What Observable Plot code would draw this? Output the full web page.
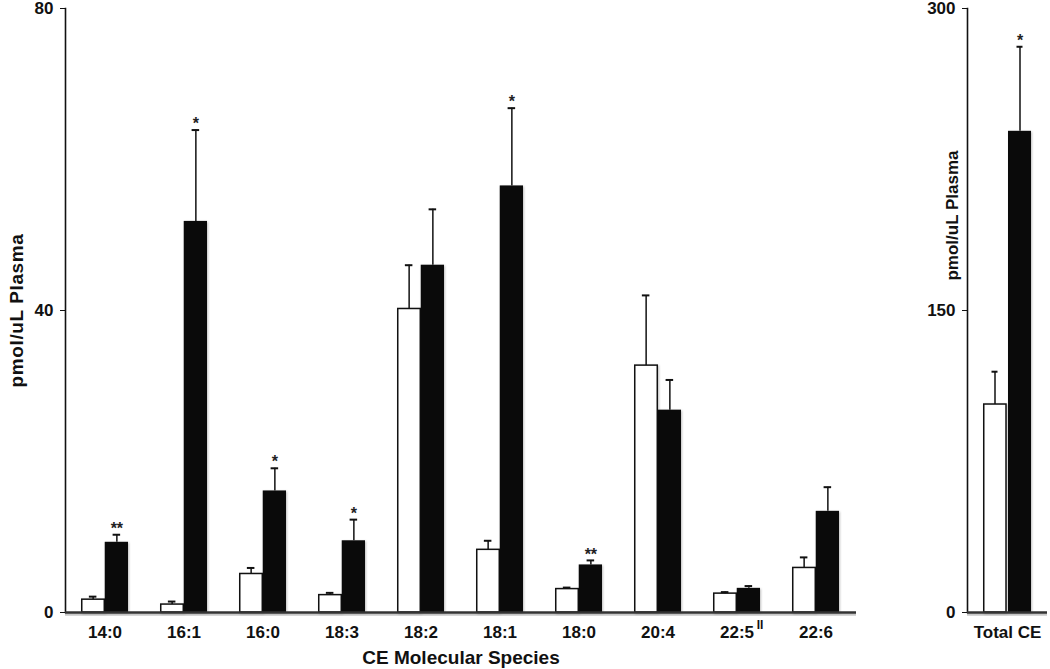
<!DOCTYPE html>
<html>
<head>
<meta charset="utf-8">
<script src="https://cdn.jsdelivr.net/npm/d3@7"></script>
<script src="https://cdn.jsdelivr.net/npm/@observablehq/plot@0.6"></script>
<style>
  body { margin: 0; background: #fff; }
  #wrap { position: relative; width: 1050px; height: 669px; overflow: hidden; }
  #wrap > svg { position: absolute; top: 0; }
</style>
</head>
<body>
<div id="wrap"></div>
<script>
// ---- data ----
const categories = ["14:0","16:1","16:0","18:3","18:2","18:1","18:0","20:4","22:5","22:6"];
const controlMean = [1.7, 1.05, 5.1, 2.3, 40.2, 8.3, 3.1, 32.7, 2.5, 5.9];
const controlSem  = [0.4, 0.4, 0.8, 0.3, 5.8, 1.2, 0.2, 9.3, 0.2, 1.4];
const treatedMean = [9.3, 51.8, 16.1, 9.5, 46.0, 56.5, 6.3, 26.8, 3.2, 13.4];
const treatedSem  = [1.0, 12.1, 3.0, 2.8, 7.4, 10.3, 0.6, 4.0, 0.3, 3.2];
const significance = ["**","*","*","*","","*","**","","",""];
const leftTicks = [0, 40, 80];

const totalCategory = ["Total CE"];
const totalControlMean = [103.3];
const totalControlSem = [16.3];
const totalTreatedMean = [239];
const totalTreatedSem = [42];
const totalSignificance = ["*"];
const rightTicks = [0, 150, 300];

const yTitle = "pmol/uL Plasma";
const xTitle = "CE Molecular Species";

// ---- build rows ----
const rows = categories.map((c, i) => ({
  cat: c, ctrl: controlMean[i], ctrlTop: controlMean[i] + controlSem[i],
  trt: treatedMean[i], trtTop: treatedMean[i] + treatedSem[i], sig: significance[i]
}));
const totalRows = totalCategory.map((c, i) => ({
  cat: c, ctrl: totalControlMean[i], ctrlTop: totalControlMean[i] + totalControlSem[i],
  trt: totalTreatedMean[i], trtTop: totalTreatedMean[i] + totalTreatedSem[i], sig: totalSignificance[i]
}));

const FONT = "'Liberation Sans', Arial, Helvetica, sans-serif";
const CAP = 8;

function groupedPanel({data, width, marginLeft, marginRight, yDomain, yTicks, pIn, pOut, extraMarks = [], xTitleText = null, yLabelDx, yLabelDy = 0, yLabelSize = 19}) {
  const height = 669, marginTop = 8, marginBottom = 57;
  const n = data.length;
  const step = (width - marginLeft - marginRight) / (n - pIn + 2 * pOut);
  const bw = step * (1 - pIn);
  const half = bw / 2;
  const q = bw / 4;
  const marks = [
    Plot.frame({anchor: "left", stroke: "#111", strokeWidth: 1.6}),
    Plot.ruleY([0], {stroke: "#c8c8c8", strokeWidth: 2.5, dy: 2}),
    Plot.barY(data, {x: "cat", y: "ctrl", fill: "white", stroke: "#111", strokeWidth: 1.5, insetRight: half, insetLeft: 0.75}),
    Plot.barY(data, {x: "cat", y: "trt", fill: "#0a0a0a", insetLeft: half}),
    Plot.ruleX(data, {x: "cat", y1: "ctrl", y2: "ctrlTop", dx: -q, stroke: "#111", strokeWidth: 1.5}),
    Plot.ruleX(data, {x: "cat", y1: "trt", y2: "trtTop", dx: q, stroke: "#111", strokeWidth: 1.5}),
    Plot.tickY(data, {x: "cat", y: "ctrlTop", insetLeft: q - CAP/2, insetRight: 3*q - CAP/2, stroke: "#111", strokeWidth: 2}),
    Plot.tickY(data, {x: "cat", y: "trtTop", insetLeft: 3*q - CAP/2, insetRight: q - CAP/2, stroke: "#111", strokeWidth: 2}),
    Plot.text(data.filter(d => d.sig), {x: "cat", y: "trtTop", text: "sig", dx: q, dy: -6, fontSize: 16, fontWeight: "bold", fill: "#222"}),
    Plot.ruleY([0], {stroke: "#333", strokeWidth: 2.5}),
    Plot.text([yTitle], {frameAnchor: "left", text: d => d, rotate: -90, textAnchor: "middle", lineAnchor: "middle", dx: yLabelDx, dy: yLabelDy, fontSize: yLabelSize, fontWeight: "bold", fill: "#111"}),
    ...extraMarks
  ];
  if (xTitleText) marks.push(Plot.text([xTitleText], {frameAnchor: "bottom", text: d => d, textAnchor: "middle", lineAnchor: "middle", dy: 45, fontSize: 19, fontWeight: "bold", fill: "#111"}));
  const svg = Plot.plot({
    width, height, marginLeft, marginRight, marginTop, marginBottom,
    style: {fontFamily: FONT, fontSize: "17px", fontWeight: "bold", color: "#111", background: "white", overflow: "visible"},
    x: {domain: data.map(d => d.cat), paddingInner: pIn, paddingOuter: pOut, label: null, tickSize: 0, tickPadding: 13},
    y: {domain: yDomain, ticks: yTicks, tickFormat: d => String(d), tickSize: 5, tickPadding: 7, label: null},
    marks
  });
  return svg;
}

const left = groupedPanel({
  data: rows, width: 870, marginLeft: 65, marginRight: 14,
  yDomain: [0, 80], yTicks: leftTicks, pIn: 0.4, pOut: 0.2, xTitleText: xTitle,
  yLabelDx: -49,
  extraMarks: [
    Plot.text(rows.filter(d => d.cat === "22:5"), {x: "cat", y: 0, text: d => "II", dx: 23, dy: 13, fontSize: 12, fontWeight: "bold", fill: "#111"})
  ]
});
left.style.left = "0px";

const right = groupedPanel({
  data: totalRows, width: 170, marginLeft: 87, marginRight: 3,
  yDomain: [0, 300], yTicks: rightTicks, pIn: 0.4, pOut: 0.18, yLabelDx: -15, yLabelDy: -95, yLabelSize: 17
});
right.style.left = "880px";

const wrap = document.getElementById("wrap");
wrap.appendChild(left);
wrap.appendChild(right);

// slight letter spacing on the left rotated title, subtle shadows on bars
left.querySelectorAll("text").forEach(t => {
  if (t.textContent === yTitle) t.setAttribute("letter-spacing", "0.6");
});
for (const svg of [left, right]) {
  svg.querySelectorAll('g[aria-label="bar"]').forEach(g => g.style.filter = "drop-shadow(1px 1px 1px rgba(0,0,0,0.25))");
}
</script>
</body>
</html>
